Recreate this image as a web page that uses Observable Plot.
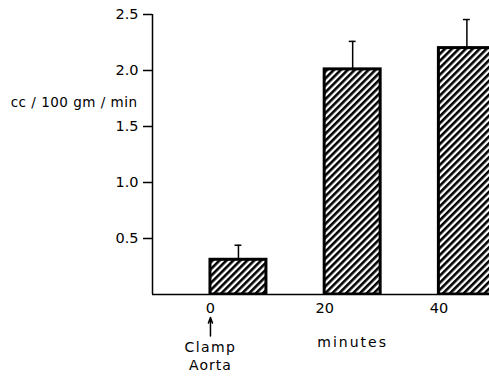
<!DOCTYPE html>
<html><head><meta charset="utf-8">
<script src="https://cdn.jsdelivr.net/npm/d3@7"></script>
<script src="https://cdn.jsdelivr.net/npm/@observablehq/plot@0.6"></script>
<style>html,body{margin:0;padding:0;background:#fff;overflow:hidden}</style>
</head><body><div id="chart"></div>
<script>
// ---- data ----
const minutes = [0, 20, 40];
const flow = [0.31, 2.01, 2.20];
const sem = [0.13, 0.25, 0.255];
const yTicks = [0.5, 1.0, 1.5, 2.0, 2.5];
const xTicks = [0, 20, 40];
const yLabel = "cc / 100 gm / min";
const xLabel = "minutes";
const eventLabel = ["Clamp", "Aorta"];

const data = minutes.map((m, i) => ({m, v: flow[i], e: sem[i]}));
const span = 9.8;            // bar width in minutes
const half = span / 2;
const xDomain = [-10.15, 48.86];

const font = "DejaVu Sans, sans-serif";

const plot = Plot.plot({
  width: 489,
  height: 376,
  marginLeft: 152,
  marginRight: 0,
  marginTop: 14,
  marginBottom: 82,
  style: {fontFamily: font, fontSize: "14px", background: "white", color: "black"},
  x: {domain: xDomain, axis: null},
  y: {domain: [0, 2.5], axis: null},
  marks: [
    // error bars
    Plot.ruleX(data, {x: d => d.m + half, y1: "v", y2: d => d.v + d.e, stroke: "black", strokeWidth: 1.5}),
    Plot.ruleY(data, {y: d => d.v + d.e, x1: d => d.m + half - 0.6, x2: d => d.m + half + 0.6, stroke: "black", strokeWidth: 1.5}),
    // bars
    Plot.rect(data, {x1: "m", x2: d => d.m + span, y1: 0, y2: "v", fill: "url(#hatch)", stroke: "black", strokeWidth: 3, clip: true}),
    // axes lines
    Plot.ruleX([xDomain[0]], {y1: 0, y2: 2.5, stroke: "black", strokeWidth: 1.5}),
    Plot.ruleY([0], {stroke: "black", strokeWidth: 1.5}),
    Plot.axisY({ticks: yTicks, tickSize: 9, tickPadding: 5, tickFormat: d3.format(".1f"), label: null, strokeWidth: 1.5, fontSize: 14.5}),
    Plot.axisX({ticks: xTicks, tickSize: 0, tickPadding: 8, tickFormat: d => String(d), label: null, fontSize: 14.5}),
    // y label
    Plot.text([yLabel], {frameAnchor: "left", y: 1.71, dx: -15, textAnchor: "end", fontSize: 13.5, text: d => d}),
    // x label
    Plot.text([xLabel], {x: 20 + half, y: -0.43, text: d => d, fontSize: 14}),
    // event annotation
    Plot.arrow([0], {x1: d => d, x2: d => d, y1: -0.37, y2: -0.205, stroke: "black", strokeWidth: 1.5, headLength: 6, headAngle: 40}),
    Plot.text([eventLabel[0]], {x: 0, y: -0.475, text: d => d, fontSize: 14}),
    Plot.text([eventLabel[1]], {x: 0, y: -0.635, text: d => d, fontSize: 14})
  ]
});

const defs = document.createElementNS("http://www.w3.org/2000/svg", "defs");
defs.innerHTML = '<pattern id="hatch" patternUnits="userSpaceOnUse" width="4.9" height="4.9" patternTransform="rotate(45)"><rect width="4.9" height="4.9" fill="white"/><line x1="1.3" y1="-1" x2="1.3" y2="6" stroke="black" stroke-width="2.6"/></pattern>';
plot.insertBefore(defs, plot.firstChild);

// letter spacing to match the wide lettering of the original
const spacing = {[yLabel]: "0.5px", [xLabel]: "2px", [eventLabel[0]]: "1.4px", [eventLabel[1]]: "1px"};
d3.select(plot).selectAll("text").each(function() {
  const t = this.textContent;
  if (spacing[t]) this.style.letterSpacing = spacing[t];
});
document.getElementById("chart").appendChild(plot);
</script>
</body></html>
